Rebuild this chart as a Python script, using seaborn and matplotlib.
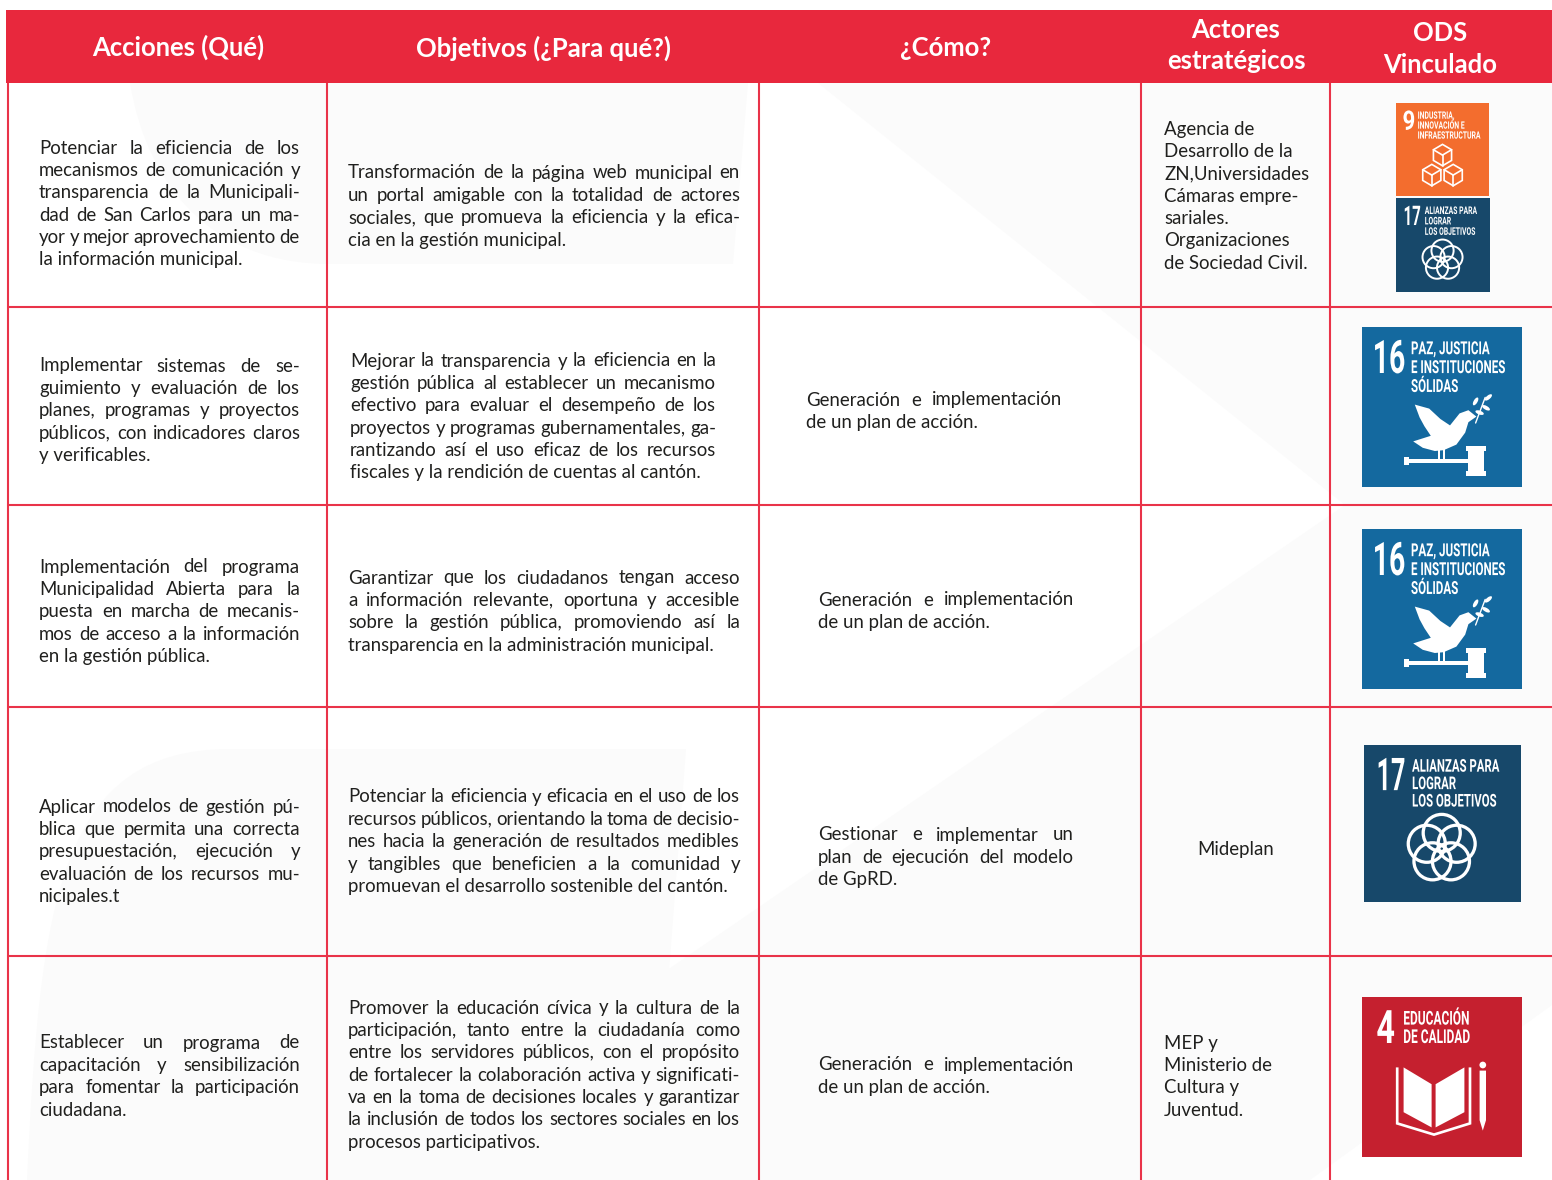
import numpy as np
import pandas as pd
import matplotlib
matplotlib.use("Agg")
import matplotlib.pyplot as plt
from matplotlib.patches import Circle, Polygon, Rectangle, Ellipse, PathPatch
from matplotlib.path import Path
from matplotlib.text import Text
from matplotlib.textpath import TextPath
from matplotlib.font_manager import FontProperties
from matplotlib.transforms import Affine2D, Bbox
import seaborn as sns

# ==============================
# Table content
# ==============================
headers = ["Acciones (Qué)", "Objetivos (¿Para qué?)", "¿Cómo?", "Actores\nestratégicos", "ODS\nVinculado"]

acciones = [
    ["Potenciar la eficiencia de los", "mecanismos de comunicación y", "transparencia de la Municipali-",
     "dad de San Carlos para un ma-", "yor y mejor aprovechamiento de", "la información municipal."],
    ["Implementar sistemas de se-", "guimiento y evaluación de los", "planes, programas y proyectos",
     "públicos, con indicadores claros", "y verificables."],
    ["Implementación del programa", "Municipalidad Abierta para la", "puesta en marcha de mecanis-",
     "mos de acceso a la información", "en la gestión pública."],
    ["Aplicar modelos de gestión pú-", "blica que permita una correcta", "presupuestación, ejecución y",
     "evaluación de los recursos mu-", "nicipales.t"],
    ["Establecer un programa de", "capacitación y sensibilización", "para fomentar la participación", "ciudadana."],
]
objetivos = [
    ["Transformación de la página web municipal en", "un portal amigable con la totalidad de actores",
     "sociales, que promueva la eficiencia y la efica-", "cia en la gestión municipal."],
    ["Mejorar la transparencia y la eficiencia en la", "gestión pública al establecer un mecanismo",
     "efectivo para evaluar el desempeño de los", "proyectos y programas gubernamentales, ga-",
     "rantizando así el uso eficaz de los recursos", "fiscales y la rendición de cuentas al cantón."],
    ["Garantizar que los ciudadanos tengan acceso", "a información relevante, oportuna y accesible",
     "sobre la gestión pública, promoviendo así la", "transparencia en la administración municipal."],
    ["Potenciar la eficiencia y eficacia en el uso de los", "recursos públicos, orientando la toma de decisio-",
     "nes hacia la generación de resultados medibles", "y tangibles que beneficien a la comunidad y",
     "promuevan el desarrollo sostenible del cantón."],
    ["Promover la educación cívica y la cultura de la", "participación, tanto entre la ciudadanía como",
     "entre los servidores públicos, con el propósito", "de fortalecer la colaboración activa y significati-",
     "va en la toma de decisiones locales y garantizar", "la inclusión de todos los sectores sociales en los",
     "procesos participativos."],
]
como = [
    [],
    ["Generación e implementación", "de un plan de acción."],
    ["Generación e implementación", "de un plan de acción."],
    ["Gestionar e implementar un", "plan de ejecución del modelo", "de GpRD."],
    ["Generación e implementación", "de un plan de acción."],
]
actores = [
    ["Agencia de", "Desarrollo de la", "ZN,Universidades", "Cámaras empre-", "sariales.", "Organizaciones", "de Sociedad Civil."],
    [],
    [],
    ["Mideplan"],
    ["MEP y", "Ministerio de", "Cultura y", "Juventud."],
]
ods = [[9, 17], [16], [16], [17], [4]]
ods_labels = {
    4: ["EDUCACIÓN", "DE CALIDAD"],
    9: ["INDUSTRIA,", "INNOVACIÓN E", "INFRAESTRUCTURA"],
    16: ["PAZ, JUSTICIA", "E INSTITUCIONES", "SÓLIDAS"],
    17: ["ALIANZAS PARA", "LOGRAR", "LOS OBJETIVOS"],
}

# ==============================
# Layout (pixels of the page)
# ==============================
W, H = 1552, 1180
RED = "#e8283d"
RULE = "#e93349"
INK = "#20201e"
SHADE = "#fbfbfb"
ODS_COLORS = {4: "#c5202f", 9: "#f36d2e", 16: "#14699f", 17: "#17486a"}

col_edges = [8, 327, 759, 1141, 1330]
row_edges = [307, 505, 707, 956]
LINE_H = 22.35

acc_box = [(39, 300)] * 5
obj_box = [(348, 740), (350, 716), (348, 740), (348, 740), (348, 740)]
como_box = [None, (806, 1062), (818, 1074), (818, 1074), (818, 1074)]
acc_top = [147, 365, 566, 806, 1042]
obj_top = [172, 360, 577, 796, 1007]
como_top = [0, 399, 599, 834, 1064]
act_top = [128, 0, 0, 849, 1042]
ods_boxes = [[(1396, 103, 93), (1396, 198, 94)], [(1362, 327, 160)], [(1362, 529, 160)],
             [(1364, 745, 157)], [(1362, 997, 160)]]


def pt(px):
    return px * 0.72


sns.set_theme(style="white")
plt.rcParams["font.family"] = ["Lato", "DejaVu Sans"]
BODY = pt(18.7)
ICON_FONT = FontProperties(family="Roboto", weight="bold")
CAP = 0.711

fig = plt.figure(figsize=(W / 100, H / 100), dpi=100, facecolor="white")
ax = fig.add_axes([0, 0, 1, 1])
renderer = fig.canvas.get_renderer()


def width_of(s, **kw):
    t = ax.text(0, 0, s, **kw)
    w = t.get_window_extent(renderer).width
    t.remove()
    return w


def natural_width(s, size):
    return TextPath((0, 0), s, size=size, prop=ICON_FONT).get_extents().width


class NarrowText(Text):
    """Text squeezed sideways, the installed fonts have no condensed cut for the ODS labels."""

    def __init__(self, x, y, s, cap, squeeze, **kw):
        # the plain font size is the one that gives the squeezed width
        super().__init__(x, y, s, fontproperties=ICON_FONT.copy(), **kw)
        self.set_fontsize(pt(cap / CAP * squeeze))
        self.cap = cap
        self.squeeze = squeeze

    def _corner(self):
        x, y = self.axes.transData.transform((self._x, self._y))
        return x, y - self.cap / 2

    def get_window_extent(self, renderer=None, dpi=None):
        x, y = self._corner()
        w = natural_width(self.get_text(), self.cap / CAP) * self.squeeze
        return Bbox.from_extents(x, y, x + w, y + self.cap)

    def draw(self, renderer):
        x, y = self._corner()
        path = TextPath((0, 0), self.get_text(), size=self.cap / CAP, prop=ICON_FONT)
        gc = renderer.new_gc()
        gc.set_linewidth(0)
        renderer.draw_path(gc, path, Affine2D().scale(self.squeeze, 1).translate(x, y), (1, 1, 1, 1))
        gc.restore()


def narrow(x, y, s, cap, width=None, squeeze=None):
    if squeeze is None:
        squeeze = width / natural_width(s, cap / CAP)
    ax.add_artist(NarrowText(x, y, s, cap, squeeze, va="center", zorder=5))


def put_block(lines, x0, x1, top, justify=True):
    """Write lines with word spacing stretched to the box, the last one left as it is."""
    for i, line in enumerate(lines):
        y = top + i * LINE_H + 6.5
        words = line.split()
        if not justify or i == len(lines) - 1 or len(words) < 2:
            ax.text(x0, y, line, fontsize=BODY, color=INK, va="baseline", zorder=5)
            continue
        widths = [width_of(w, fontsize=BODY) for w in words]
        gap = (x1 - x0 - sum(widths)) / (len(words) - 1)
        x = x0
        for w, ww in zip(words, widths):
            ax.text(x, y, w, fontsize=BODY, color=INK, va="baseline", zorder=5)
            x += ww + gap


# ==============================
# ODS icons, drawn in 0-1 coordinates of each square
# ==============================
def cube(P, cx, cy, r, lw):
    ang = np.radians([90, 30, -30, -90, -150, 150])
    pts = [P(cx + r * np.cos(a) * 0.98, cy - r * np.sin(a)) for a in ang]
    ax.add_patch(Polygon(pts, closed=True, fill=False, ec="white", lw=lw, zorder=4))
    c = P(cx, cy)
    for k in (1, 3, 5):
        ax.plot([c[0], pts[k][0]], [c[1], pts[k][1]], color="white", lw=lw, zorder=4)


def draw_icon(goal, x0, y0, s):
    P = lambda u, v: (x0 + u * s, y0 + v * s)
    white = dict(fc="white", ec="none", zorder=4)
    ax.add_patch(Rectangle((x0, y0), s, s, fc=ODS_COLORS[goal], ec="none", zorder=3))

    num_x = {4: 0.09, 9: 0.07, 16: 0.067, 17: 0.08}[goal]
    num_w = {4: 0.105, 9: 0.115, 16: 0.183, 17: 0.164}[goal]
    text_x = {4: 0.258, 9: 0.233, 16: 0.306, 17: 0.306}[goal]
    text_w = {4: 0.41, 9: 0.67, 16: 0.583, 17: 0.556}[goal]
    cap = {4: 0.085, 9: 0.078, 16: 0.08, 17: 0.08}[goal] * s
    step = {4: 0.115, 9: 0.107, 16: 0.118, 17: 0.111}[goal]
    narrow(*P(num_x, 0.185), str(goal), 0.205 * s, width=num_w * s)
    labels = ods_labels[goal]
    longest = max(labels, key=len) if goal != 4 else labels[1]
    squeeze = text_w * s / natural_width(longest, cap / CAP)
    for i, lab in enumerate(labels):
        narrow(*P(text_x, 0.13 + i * step), lab, cap, squeeze=squeeze)

    if goal == 17:
        for a in np.radians([90, 162, 234, 306, 18]):
            c = P(0.495 + 0.1 * np.cos(a), 0.66 - 0.1 * np.sin(a))
            ax.add_patch(Circle(c, 0.118 * s, fill=False, ec="white", lw=s * 0.015, zorder=4))
    elif goal == 9:
        lw = 1.2
        cube(P, 0.5, 0.56, 0.115, lw)
        cube(P, 0.385, 0.775, 0.115, lw)
        cube(P, 0.615, 0.775, 0.115, lw)
    elif goal == 16:
        dove = [(.33, .485), (.42, .51), (.49, .575), (.55, .615), (.61, .54), (.665, .52), (.715, .56),
                (.665, .595), (.645, .66), (.59, .735), (.51, .77), (.455, .775), (.38, .755), (.32, .715),
                (.43, .68), (.39, .62), (.36, .565)]
        ax.add_patch(Polygon([P(*q) for q in dove], **white))
        for u in (.478, .505):
            ax.add_patch(Rectangle(P(u, .76), .012 * s, .07 * s, **white))
        ax.add_patch(Rectangle(P(.28, .825), .42 * s, .025 * s, **white))
        ax.add_patch(Rectangle(P(.265, .81), .03 * s, .05 * s, **white))
        ax.add_patch(Rectangle(P(.65, .745), .125 * s, .03 * s, **white))
        ax.add_patch(Rectangle(P(.665, .775), .095 * s, .125 * s, **white))
        ax.add_patch(Rectangle(P(.65, .9), .125 * s, .03 * s, **white))
        b0, b1 = P(.71, .6), P(.77, .44)
        ax.plot([b0[0], b1[0]], [b0[1], b1[1]], color="white", lw=1, zorder=4)
        for u, v, a in [(.71, .465, 60), (.79, .44, 40), (.775, .505, -30), (.735, .535, -20)]:
            ax.add_patch(Ellipse(P(u, v), .055 * s, .024 * s, angle=-a, **white))
    elif goal == 4:
        left = [(.26, .44), (.435, .545), (.435, .815), (.26, .72)]
        right = [(.46, .545), (.64, .44), (.64, .72), (.46, .815)]
        ax.add_patch(Polygon([P(*q) for q in left], **white))
        ax.add_patch(Polygon([P(*q) for q in right], **white))
        cover = [P(.22, .44), P(.22, .79), P(.45, .86), P(.675, .79), P(.675, .44)]
        ax.add_patch(Polygon(cover, closed=False, fill=False, ec="white", lw=s * 0.012, zorder=4))
        ax.add_patch(Circle(P(.755, .425), .021 * s, **white))
        ax.add_patch(Polygon([P(.735, .46), P(.775, .46), P(.775, .77), P(.755, .835), P(.735, .77)], **white))


# ==============================
# Page background shapes
# ==============================
shade_paths = [
    # rounded block at the top
    Path([(130, 83), (148, 190), (215, 264), (330, 264), (733, 264), (748, 83), (130, 83)],
         [Path.MOVETO, Path.CURVE4, Path.CURVE4, Path.CURVE4, Path.LINETO, Path.LINETO, Path.CLOSEPOLY]),
    # rounded block at the bottom
    Path([(27, 1180), (40, 900), (60, 749), (230, 749), (686, 749), (668, 985), (668, 1180), (27, 1180)],
         [Path.MOVETO, Path.CURVE4, Path.CURVE4, Path.CURVE4, Path.LINETO, Path.LINETO, Path.LINETO, Path.CLOSEPOLY]),
    # folded band on the right
    Path([(818, 83), (1552, 83), (1552, 1005), (1310, 1180), (660, 1180), (660, 975), (1345, 505), (818, 83)],
         [Path.MOVETO] + [Path.LINETO] * 6 + [Path.CLOSEPOLY]),
]
for p in shade_paths:
    ax.add_patch(PathPatch(p, fc=SHADE, ec="none", zorder=1))

# ==============================
# Grid rules and header
# ==============================
rules = pd.DataFrame(
    [{"rule": f"v{i}", "x": x, "y": y} for i, x in enumerate(col_edges) for y in (83, H)]
    + [{"rule": f"h{i}", "x": x, "y": y} for i, y in enumerate(row_edges) for x in (col_edges[0], W)]
)
sns.lineplot(data=rules, x="x", y="y", units="rule", estimator=None, sort=False, color=RULE,
             linewidth=1.5, legend=False, ax=ax, zorder=2)

ax.add_patch(Rectangle((6, 10), W - 6, 73, fc=RED, ec="none", zorder=3))
head_xy = [(178, 47), (543, 48), (946, 48), (1236, 45.5), (1440, 49)]
for label, (x, y) in zip(headers, head_xy):
    ax.text(x, y, label, color="white", fontsize=pt(25.6), weight="bold", ha="center", va="center",
            linespacing=1.36, zorder=5)

# ==============================
# Cells
# ==============================
for r in range(5):
    put_block(acciones[r], *acc_box[r], acc_top[r])
    put_block(objetivos[r], *obj_box[r], obj_top[r])
    if como[r]:
        put_block(como[r], *como_box[r], como_top[r])
    if actores[r]:
        x_act = 1197 if len(actores[r]) == 1 else 1164
        put_block(actores[r], x_act, x_act, act_top[r], justify=False)
    for goal, (x, y, s) in zip(ods[r], ods_boxes[r]):
        draw_icon(goal, x, y, s)

ax.set_xlim(0, W)
ax.set_ylim(H, 0)
ax.set_xlabel("")
ax.set_ylabel("")
ax.axis("off")
fig.savefig("out.png", dpi=100)
plt.close(fig)
